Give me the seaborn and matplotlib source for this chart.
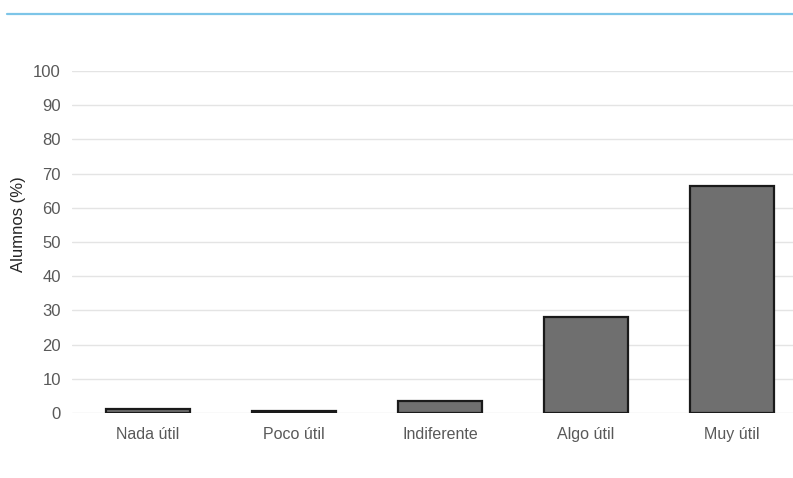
import matplotlib
matplotlib.use("Agg")
import matplotlib.pyplot as plt
import seaborn as sns
import pandas as pd
from matplotlib.lines import Line2D

categories = ["Nada útil", "Poco útil", "Indiferente", "Algo útil", "Muy útil"]
values = [1.2, 0.6, 3.5, 28.2, 66.4]
yticks = [0, 10, 20, 30, 40, 50, 60, 70, 80, 90, 100]
ylabel = "Alumnos (%)"

sns.set_theme(style="white")
plt.rcParams["font.family"] = ["Liberation Sans", "DejaVu Sans"]

df = pd.DataFrame({"cat": categories, "val": values})

fig = plt.figure(figsize=(7.93, 4.78), dpi=100)
ax = fig.add_axes([72 / 793, 65 / 478, (793 - 72) / 793, (413 - 71) / 478])

sns.barplot(data=df, x="cat", y="val", color="#6f6f6f", saturation=1,
            edgecolor="#1a1a1a", linewidth=1.6, width=0.58, ax=ax, zorder=3)

ax.set_ylim(0, 100)
ax.set_xlim(-0.5 - 3 / 146, 4.5 - 12 / 146)
ax.set_yticks(yticks)
ax.set_yticklabels([str(t) for t in yticks])
ax.yaxis.grid(True, color="#e4e4e4", linewidth=1.0, zorder=0)
ax.set_axisbelow(True)
for s in ax.spines.values():
    s.set_visible(False)
ax.tick_params(axis="both", length=0, labelcolor="#595959")
ax.tick_params(axis="y", pad=8, labelsize=12)
ax.tick_params(axis="x", pad=10, labelsize=11.5)
ax.set_xlabel("")
ax.set_ylabel("")
fig.text(19 / 793, 1 - 224 / 478, ylabel, rotation=90, ha="center", va="center",
         fontsize=12, color="#262626")

fig.add_artist(Line2D([7 / 793, 1.0], [1 - 14 / 478, 1 - 14 / 478],
                      transform=fig.transFigure, color="#7dc5e8", linewidth=1.6))

fig.savefig("out.png", dpi=100, facecolor="white")
